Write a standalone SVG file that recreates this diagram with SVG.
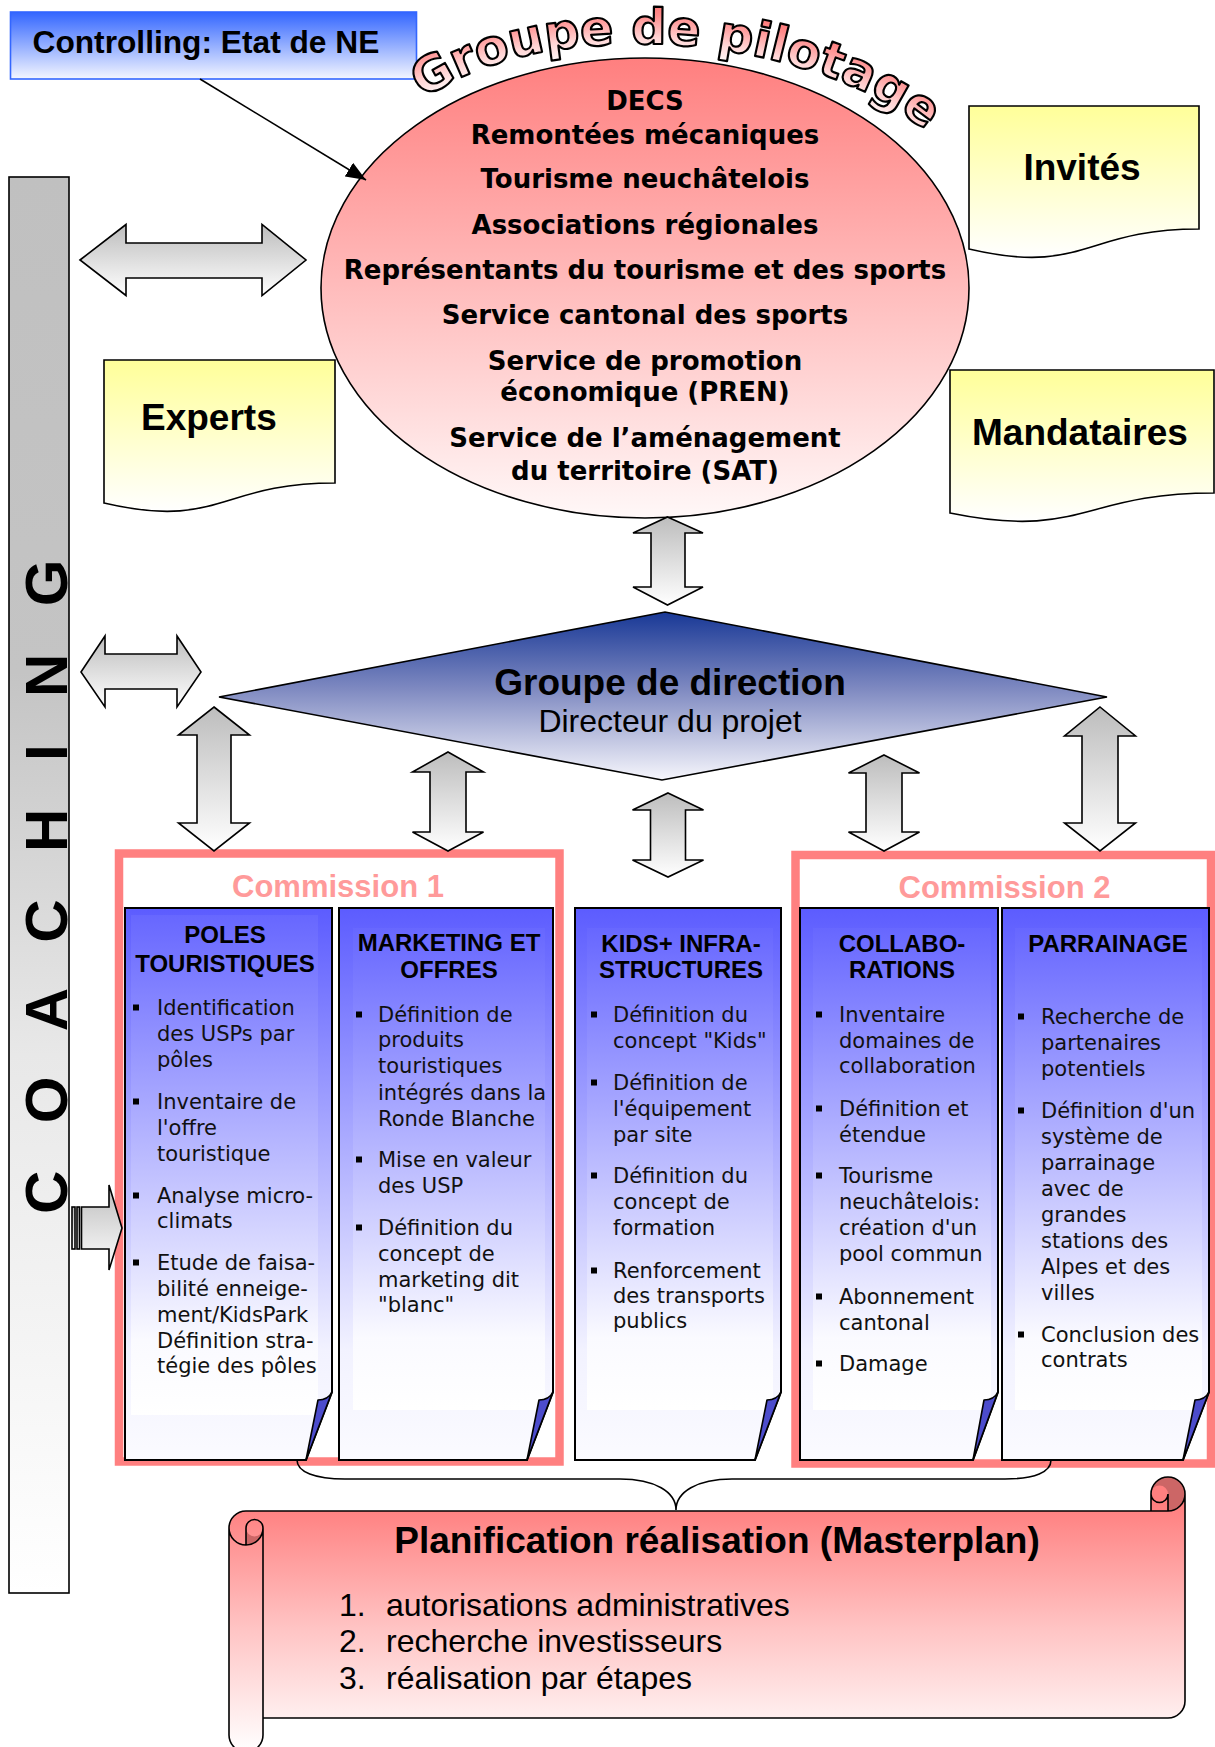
<svg xmlns="http://www.w3.org/2000/svg" width="1215" height="1747" viewBox="0 0 1215 1747">
  <defs>
    <style>
      .ar { font-family: "Liberation Sans", Arial, sans-serif; }
      .vd { font-family: "DejaVu Sans", Verdana, sans-serif; }
      .b { font-weight: bold; }
      .ol { stroke: #000; stroke-width: 1.6; }
      .hdr { font-family: "Liberation Sans", Arial, sans-serif; font-weight: bold; font-size: 24px; text-anchor: middle; fill: #000; }
      .itm { font-family: "DejaVu Sans", Verdana, sans-serif; font-size: 21px; fill: #111; }
      .bul { fill: #000; }
      .elt { font-family: "DejaVu Sans", Verdana, sans-serif; font-weight: bold; font-size: 26px; text-anchor: middle; fill: #000; }
      .com { font-family: "Liberation Sans", Arial, sans-serif; font-weight: bold; font-size: 31px; text-anchor: middle; fill: #ff9a9a; }
      .frame { fill: #fff; stroke: #ff8080; stroke-width: 8.5; }
      .fold { fill: #4c4ccc; stroke: #000; stroke-width: 1.6; stroke-linejoin: round; }
      .col { fill: url(#gCol); stroke: #000; stroke-width: 2; }
      .inner { fill: url(#gInner); }
      .dbl { fill: url(#gArrow); stroke: #000; stroke-width: 1.6; stroke-linejoin: miter; }
      .doc { fill: url(#gYellow); stroke: #000; stroke-width: 1.6; }
      .big { font-family: "Liberation Sans", Arial, sans-serif; font-weight: bold; font-size: 37px; fill: #000; }
    </style>
    <linearGradient id="gBlueBox" x1="0" y1="0" x2="0" y2="1">
      <stop offset="0" stop-color="#3366ff"/>
      <stop offset="1" stop-color="#f4f6ff"/>
    </linearGradient>
    <linearGradient id="gPink" x1="0" y1="0" x2="0" y2="1">
      <stop offset="0" stop-color="#ff7f7f"/>
      <stop offset="0.5" stop-color="#ffbcbc"/>
      <stop offset="1" stop-color="#fff8f8"/>
    </linearGradient>
    <linearGradient id="gScroll" gradientUnits="userSpaceOnUse" x1="0" y1="1505" x2="0" y2="1752">
      <stop offset="0" stop-color="#ff7f7f"/>
      <stop offset="0.5" stop-color="#ffc4c4"/>
      <stop offset="1" stop-color="#ffffff"/>
    </linearGradient>
    <linearGradient id="gYellow" x1="0" y1="0" x2="0" y2="1">
      <stop offset="0" stop-color="#ffff99"/>
      <stop offset="1" stop-color="#ffffff"/>
    </linearGradient>
    <linearGradient id="gArrow" x1="0" y1="0" x2="0" y2="1">
      <stop offset="0" stop-color="#bdbdbd"/>
      <stop offset="1" stop-color="#ffffff"/>
    </linearGradient>
    <linearGradient id="gBar" x1="0" y1="0" x2="0" y2="1">
      <stop offset="0" stop-color="#c0c0c0"/>
      <stop offset="0.35" stop-color="#c4c4c4"/>
      <stop offset="0.62" stop-color="#e8e8e8"/>
      <stop offset="1" stop-color="#ffffff"/>
    </linearGradient>
    <linearGradient id="gDiamond" x1="0" y1="0" x2="0" y2="1">
      <stop offset="0" stop-color="#183896"/>
      <stop offset="0.45" stop-color="#7d88c0"/>
      <stop offset="1" stop-color="#f6f6fc"/>
    </linearGradient>
    <linearGradient id="gCol" x1="0" y1="0" x2="0" y2="1">
      <stop offset="0" stop-color="#5c5cff"/>
      <stop offset="0.8" stop-color="#f2f2ff"/>
      <stop offset="1" stop-color="#fbfbff"/>
    </linearGradient>
    <linearGradient id="gInner" x1="0" y1="0" x2="0" y2="1">
      <stop offset="0" stop-color="#6767ff"/>
      <stop offset="0.85" stop-color="#fafaff"/>
      <stop offset="1" stop-color="#ffffff"/>
    </linearGradient>
    <radialGradient id="gTitle" gradientUnits="userSpaceOnUse" cx="0" cy="0" r="290" gradientTransform="translate(635,290) scale(1.52,1)">
      <stop offset="0.8" stop-color="#ffffff"/>
      <stop offset="0.87" stop-color="#ffd4d4"/>
      <stop offset="0.95" stop-color="#ff8a8a"/>
      <stop offset="1" stop-color="#ff7070"/>
    </radialGradient>
    <marker id="tri" viewBox="0 0 20 16" refX="20" refY="8" markerWidth="20" markerHeight="16" markerUnits="userSpaceOnUse" orient="auto">
      <path d="M0,0 L20,8 L0,16 Z" fill="#000"/>
    </marker>
    <clipPath id="clipC2">
      <rect x="339" y="900" width="207" height="560"/>
    </clipPath>
    <path id="archPath" d="M418,102 C488,55 560,44 645,44 C740,44 870,75 935,140"/>
  </defs>

  <rect width="1215" height="1747" fill="#fff"/>

  <!-- vertical coaching bar -->
  <g id="coaching">
    <rect x="9" y="177" width="60" height="1416" fill="url(#gBar)" class="ol"/>
    <text class="ar b" font-size="60" letter-spacing="15.4" transform="translate(67,1214) rotate(-90)">C O A C H I N G</text>
  </g>

  <!-- controlling box -->
  <g id="controlling">
    <rect x="10.5" y="12" width="406" height="67" fill="url(#gBlueBox)" stroke="#3366ff" stroke-width="1.6"/>
    <text x="32.5" y="53" class="ar b" font-size="31.7">Controlling: Etat de NE</text>
  </g>

  <!-- steering group ellipse -->
  <g id="groupe-pilotage">
    <ellipse cx="645" cy="288" rx="324" ry="230" fill="url(#gPink)" class="ol"/>
    <text class="elt" x="645" y="110">DECS</text>
    <text class="elt" x="645" y="144">Remontées mécaniques</text>
    <text class="elt" x="645" y="188">Tourisme neuchâtelois</text>
    <text class="elt" x="645" y="234">Associations régionales</text>
    <text class="elt" x="645" y="279">Représentants du tourisme et des sports</text>
    <text class="elt" x="645" y="324">Service cantonal des sports</text>
    <text class="elt" x="645" y="370">Service de promotion</text>
    <text class="elt" x="645" y="401">économique (PREN)</text>
    <text class="elt" x="645" y="447">Service de l’aménagement</text>
    <text class="elt" x="645" y="480">du territoire (SAT)</text>
    <text class="vd b" font-size="49" fill="url(#gTitle)" stroke="#000" stroke-width="2.2" stroke-linejoin="round"><textPath href="#archPath" startOffset="6">Groupe de pilotage</textPath></text>
  </g>

  <!-- side partners -->
  <g id="invites">
    <path class="doc" d="M969,106 H1199 V229 C1084,229 1084,276 969,249 Z"/>
    <text class="big" x="1082" y="180" text-anchor="middle">Invités</text>
  </g>
  <g id="experts">
    <path class="doc" d="M104,360 H335 V483 C219.5,483 219.5,530 104,503 Z"/>
    <text class="big" x="141" y="430">Experts</text>
  </g>
  <g id="mandataires">
    <path class="doc" d="M950,370 H1214 V493 C1082,493 1082,540 950,513 Z"/>
    <text class="big" x="972" y="445">Mandataires</text>
  </g>

  <!-- management diamond -->
  <g id="groupe-direction">
    <path d="M219,697 L665,612 L1107,697 L662,780 Z" fill="url(#gDiamond)" class="ol"/>
    <text class="big" x="670" y="695" text-anchor="middle">Groupe de direction</text>
    <text class="ar" x="670" y="732" font-size="32" text-anchor="middle">Directeur du projet</text>
  </g>

  <!-- commission frames -->
  <g id="commission-1">
    <rect class="frame" x="119" y="853.5" width="440.5" height="608"/>
    <text class="com" x="338" y="897">Commission 1</text>
  </g>
  <g id="commission-2">
    <rect class="frame" x="795.5" y="855" width="415.5" height="608.5"/>
    <text class="com" x="1004.5" y="898">Commission 2</text>
  </g>

  <!-- work packages -->
  <g id="poles-touristiques">
    <path class="col" d="M125,908 H332 V1392 L306,1460 H125 Z"/>
    <rect class="inner" x="131" y="915" width="187" height="500"/>
    <path class="fold" d="M332,1392 Q328,1400 318,1400 L306,1460 Z"/>
    <text class="hdr" x="225" y="943">POLES</text>
    <text class="hdr" x="225" y="972">TOURISTIQUES</text>
    <rect class="bul" x="133" y="1004.5" width="6" height="6"/>
    <rect class="bul" x="133" y="1098.5" width="6" height="6"/>
    <rect class="bul" x="133" y="1192.5" width="6" height="6"/>
    <rect class="bul" x="133" y="1259.5" width="6" height="6"/>
    <text class="itm">
      <tspan x="157" y="1015">Identification</tspan>
      <tspan x="157" y="1041">des USPs par</tspan>
      <tspan x="157" y="1067">pôles</tspan>
      <tspan x="157" y="1109">Inventaire de</tspan>
      <tspan x="157" y="1135">l'offre</tspan>
      <tspan x="157" y="1161">touristique</tspan>
      <tspan x="157" y="1203">Analyse micro-</tspan>
      <tspan x="157" y="1228">climats</tspan>
      <tspan x="157" y="1270">Etude de faisa-</tspan>
      <tspan x="157" y="1296">bilité enneige-</tspan>
      <tspan x="157" y="1322">ment/KidsPark</tspan>
      <tspan x="157" y="1348">Définition stra-</tspan>
      <tspan x="157" y="1373">tégie des pôles</tspan>
    </text>
  </g>

  <g id="marketing-offres">
    <path class="col" d="M339,908 H553 V1392 L527,1460 H339 Z"/>
    <rect class="inner" x="353" y="928" width="192" height="482"/>
    <path class="fold" d="M553,1392 Q549,1400 539,1400 L527,1460 Z"/>
    <text class="hdr" x="449" y="951">MARKETING ET</text>
    <text class="hdr" x="449" y="978">OFFRES</text>
    <rect class="bul" x="356" y="1011.5" width="6" height="6"/>
    <rect class="bul" x="356" y="1156.5" width="6" height="6"/>
    <rect class="bul" x="356" y="1224.5" width="6" height="6"/>
    <text class="itm" clip-path="url(#clipC2)">
      <tspan x="378" y="1022">Définition de</tspan>
      <tspan x="378" y="1047">produits</tspan>
      <tspan x="378" y="1073">touristiques</tspan>
      <tspan x="378" y="1100">intégrés dans la</tspan>
      <tspan x="378" y="1126">Ronde Blanche</tspan>
      <tspan x="378" y="1167">Mise en valeur</tspan>
      <tspan x="378" y="1193">des USP</tspan>
      <tspan x="378" y="1235">Définition du</tspan>
      <tspan x="378" y="1261">concept de</tspan>
      <tspan x="378" y="1287">marketing dit</tspan>
      <tspan x="378" y="1312">"blanc"</tspan>
    </text>
  </g>

  <g id="kids-infrastructures">
    <path class="col" d="M575,908 H781 V1392 L755,1460 H575 Z"/>
    <rect class="inner" x="587" y="928" width="186" height="482"/>
    <path class="fold" d="M781,1392 Q777,1400 767,1400 L755,1460 Z"/>
    <text class="hdr" x="681" y="952">KIDS+ INFRA-</text>
    <text class="hdr" x="681" y="978">STRUCTURES</text>
    <rect class="bul" x="591" y="1011.5" width="6" height="6"/>
    <rect class="bul" x="591" y="1079.5" width="6" height="6"/>
    <rect class="bul" x="591" y="1172.5" width="6" height="6"/>
    <rect class="bul" x="591" y="1267.5" width="6" height="6"/>
    <text class="itm">
      <tspan x="613" y="1022">Définition du</tspan>
      <tspan x="613" y="1048">concept "Kids"</tspan>
      <tspan x="613" y="1090">Définition de</tspan>
      <tspan x="613" y="1116">l'équipement</tspan>
      <tspan x="613" y="1142">par site</tspan>
      <tspan x="613" y="1183">Définition du</tspan>
      <tspan x="613" y="1209">concept de</tspan>
      <tspan x="613" y="1235">formation</tspan>
      <tspan x="613" y="1278">Renforcement</tspan>
      <tspan x="613" y="1303">des transports</tspan>
      <tspan x="613" y="1328">publics</tspan>
    </text>
  </g>

  <g id="collaborations">
    <path class="col" d="M800,908 H998 V1392 L973,1460 H800 Z"/>
    <rect class="inner" x="813" y="928" width="178" height="482"/>
    <path class="fold" d="M998,1392 Q994,1400 984,1400 L973,1460 Z"/>
    <text class="hdr" x="902" y="952">COLLABO-</text>
    <text class="hdr" x="902" y="978">RATIONS</text>
    <rect class="bul" x="816" y="1011.5" width="6" height="6"/>
    <rect class="bul" x="816" y="1105.5" width="6" height="6"/>
    <rect class="bul" x="816" y="1172.5" width="6" height="6"/>
    <rect class="bul" x="816" y="1293.5" width="6" height="6"/>
    <rect class="bul" x="816" y="1360.5" width="6" height="6"/>
    <text class="itm">
      <tspan x="839" y="1022">Inventaire</tspan>
      <tspan x="839" y="1048">domaines de</tspan>
      <tspan x="839" y="1073">collaboration</tspan>
      <tspan x="839" y="1116">Définition et</tspan>
      <tspan x="839" y="1142">étendue</tspan>
      <tspan x="839" y="1183">Tourisme</tspan>
      <tspan x="839" y="1209">neuchâtelois:</tspan>
      <tspan x="839" y="1235">création d'un</tspan>
      <tspan x="839" y="1261">pool commun</tspan>
      <tspan x="839" y="1304">Abonnement</tspan>
      <tspan x="839" y="1330">cantonal</tspan>
      <tspan x="839" y="1371">Damage</tspan>
    </text>
  </g>

  <g id="parrainage">
    <path class="col" d="M1002,908 H1209 V1392 L1183,1460 H1002 Z"/>
    <rect class="inner" x="1015" y="928" width="187" height="482"/>
    <path class="fold" d="M1209,1392 Q1205,1400 1195,1400 L1183,1460 Z"/>
    <text class="hdr" x="1108" y="952">PARRAINAGE</text>
    <rect class="bul" x="1018" y="1013.5" width="6" height="6"/>
    <rect class="bul" x="1018" y="1107.5" width="6" height="6"/>
    <rect class="bul" x="1018" y="1331.5" width="6" height="6"/>
    <text class="itm">
      <tspan x="1041" y="1024">Recherche de</tspan>
      <tspan x="1041" y="1050">partenaires</tspan>
      <tspan x="1041" y="1076">potentiels</tspan>
      <tspan x="1041" y="1118">Définition d'un</tspan>
      <tspan x="1041" y="1144">système de</tspan>
      <tspan x="1041" y="1170">parrainage</tspan>
      <tspan x="1041" y="1196">avec de</tspan>
      <tspan x="1041" y="1222">grandes</tspan>
      <tspan x="1041" y="1248">stations des</tspan>
      <tspan x="1041" y="1274">Alpes et des</tspan>
      <tspan x="1041" y="1300">villes</tspan>
      <tspan x="1041" y="1342">Conclusion des</tspan>
      <tspan x="1041" y="1367">contrats</tspan>
    </text>
  </g>

  <!-- masterplan scroll -->
  <g id="masterplan">
    <path d="M229,1528 A17,17 0 0 1 246,1511 H1151 V1494 A17,17 0 0 1 1185,1494 V1701 A17,17 0 0 1 1168,1718 H263 V1735 A17,17 0 0 1 229,1735 Z" fill="url(#gScroll)"/>
    <path d="M246,1545 A17,17 0 0 0 263,1528 A8.5,8.5 0 0 1 246,1528 Z" fill="#cc6666"/>
    <path d="M1168,1511 A17,17 0 1 0 1151,1494 A8.5,8.5 0 0 1 1168,1494 Z" fill="#cc6666"/>
    <path d="M229,1528 A17,17 0 0 1 246,1511 H1151 V1494 A17,17 0 0 1 1185,1494 V1701 A17,17 0 0 1 1168,1718 H263 V1735 A17,17 0 0 1 229,1735 Z
             M1151,1511 H1168 A17,17 0 0 0 1185,1494
             M1168,1511 V1494 A8.5,8.5 0 0 1 1151,1494
             M246,1545 V1528 A8.5,8.5 0 0 1 263,1528 A17,17 0 0 1 229,1528
             M263,1528 V1718" fill="none" class="ol"/>
    <text class="big" x="717" y="1553" text-anchor="middle">Planification réalisation (Masterplan)</text>
    <text class="ar" font-size="32" fill="#000">
      <tspan x="339" y="1616">1.</tspan><tspan x="386" y="1616">autorisations administratives</tspan>
      <tspan x="339" y="1652">2.</tspan><tspan x="386" y="1652">recherche investisseurs</tspan>
      <tspan x="339" y="1689">3.</tspan><tspan x="386" y="1689">réalisation par étapes</tspan>
    </text>
  </g>

  <!-- connectors: block arrows, control arrow and brace -->
  <g id="connectors">
    <line x1="200" y1="79" x2="366" y2="180" stroke="#000" stroke-width="1.6" marker-end="url(#tri)"/>
    <!-- horizontal double arrows -->
    <path class="dbl" d="M80,260 L126,224.5 V243 H262 V224.5 L306,260 L262,295.5 V278 H126 V295.5 Z"/>
    <path class="dbl" d="M81,672 L105,636 V654 H177 V636 L201,672 L177,707 V689 H105 V707 Z"/>
    <!-- vertical double arrows -->
    <path class="dbl" d="M667.5,517 L703,533 H685 V587 H703 L667.5,605 L633,587 H651 V533 H633 Z"/>
    <path class="dbl" d="M214,707 L249.5,735 H231 V823 H249.5 L214,851 L178.5,823 H197 V735 H178.5 Z"/>
    <path class="dbl" d="M448,752 L483.5,772 H466 V832 H483.5 L448,851 L412.5,832 H430 V772 H412.5 Z"/>
    <path class="dbl" d="M668,793 L703.5,810 H685.5 V860 H703.5 L668,877 L632.5,860 H650.5 V810 H632.5 Z"/>
    <path class="dbl" d="M884,755 L919.5,773 H902 V832 H919.5 L884,851 L848.5,832 H866 V773 H848.5 Z"/>
    <path class="dbl" d="M1100,707 L1135.5,736 H1118 V823 H1135.5 L1100,851 L1064.5,823 H1082 V736 H1064.5 Z"/>
    <!-- striped arrow from coaching bar -->
    <rect x="72" y="1207" width="3" height="42" fill="url(#gArrow)" class="ol"/>
    <rect x="77" y="1207" width="2.5" height="42" fill="url(#gArrow)" class="ol"/>
    <path class="dbl" d="M81.5,1207 H109 V1185 L122,1228 L109,1270 V1249 H81.5 Z"/>
    <!-- brace gathering the work packages -->
    <path d="M297,1460 C297,1472 315,1479 345,1479 L620,1479 C655,1479 676,1492 676,1510 C676,1492 697,1479 732,1479 L1005,1479 C1035,1479 1051,1472 1051,1460" fill="none" stroke="#000" stroke-width="1.6"/>
  </g>
</svg>
